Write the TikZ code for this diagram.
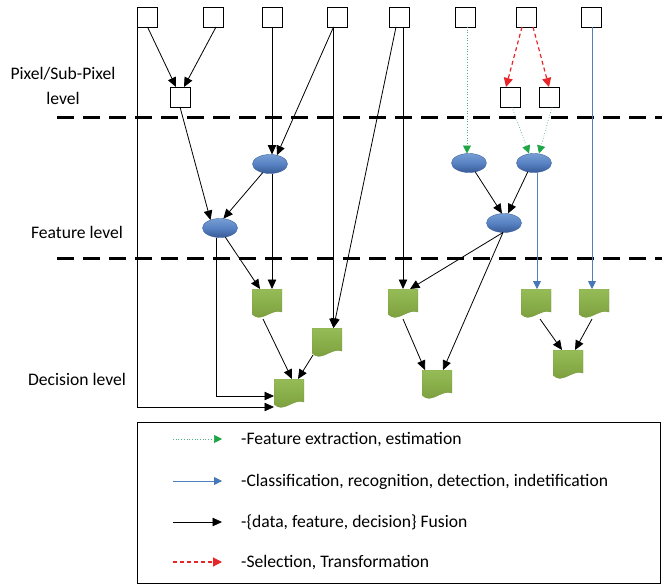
\documentclass[tikz,border=0pt]{standalone}
\usepackage{fontspec}
\setmainfont{Carlito}
\usetikzlibrary{arrows.meta,calc,shapes.geometric}

\definecolor{lineblue}{RGB}{79,129,189}
\definecolor{tipblue}{RGB}{70,120,185}
\definecolor{linegreen}{RGB}{80,175,130}
\definecolor{tipgreen}{RGB}{30,165,70}
\definecolor{linered}{RGB}{232,38,42}
\definecolor{ellTop}{RGB}{118,158,212}
\definecolor{ellMid}{RGB}{88,130,195}
\definecolor{ellBot}{RGB}{55,90,150}
\definecolor{ellEdge}{RGB}{65,100,160}
\definecolor{docTop}{RGB}{150,188,88}
\definecolor{docMid}{RGB}{176,208,114}
\definecolor{docBot}{RGB}{118,155,56}
\definecolor{docEdge}{RGB}{120,152,62}

\tikzset{
  sqbox/.style={draw=black, line width=0.8pt, fill=white, minimum width=20pt,
    minimum height=20pt, inner sep=0pt, outer sep=0pt},
  blob/.style={ellipse, minimum width=35pt, minimum height=19pt, inner sep=0pt,
    outer sep=0pt, draw=ellEdge, line width=0.4pt,
    top color=ellTop, bottom color=ellBot, middle color=ellMid},
  docnode/.style={rectangle, minimum width=30pt, minimum height=30pt, inner sep=0pt,
    outer sep=0pt,
    path picture={
      \begin{scope}[shift={(path picture bounding box.center)}]
        \shade[top color=docTop, middle color=docMid, bottom color=docBot,
               draw=docEdge, line width=0.4pt]
          (-15pt,15pt) -- (15pt,15pt) -- (15pt,-8pt)
          .. controls (4pt,-4pt) and (-6pt,-20pt) .. (-15pt,-10pt) -- cycle;
      \end{scope}
    }},
  fuse/.style={draw=black, line width=0.8pt, -{Triangle[length=9.5pt,width=8.5pt]}},
  classify/.style={draw=lineblue, line width=0.8pt,
    -{Triangle[length=8pt,width=8pt,fill=tipblue,color=tipblue]}},
  extract/.style={draw=linegreen, line width=0.7pt, dotted,
    -{Triangle[length=8pt,width=8pt,fill=tipgreen,color=tipgreen]}},
  select/.style={draw=linered, line width=1.2pt, dash pattern=on 4pt off 3pt,
    -{Triangle[length=9pt,width=9pt,fill=linered,color=linered]}},
  levelline/.style={draw=black, line width=3pt, dash pattern=on 17pt off 9pt},
  lbl/.style={font=\fontsize{17.6}{20}\selectfont, inner sep=0pt}
}

\begin{document}
\begin{tikzpicture}[x=1pt,y=-1pt]
\useasboundingbox (0,0) rectangle (662,586);

% level separators
\draw[levelline] (57,118) -- (662,118);
\draw[levelline] (57,258) -- (662,258);

% level names
\node[lbl, anchor=base] (lvA) at (63,80) {Pixel/Sub-Pixel};
\node[lbl, anchor=base] (lvB) at (63,105) {level};
\node[lbl, anchor=base] (lvC) at (77,238) {Feature level};
\node[lbl, anchor=base] (lvD) at (77,385) {Decision level};

% sources
\node[sqbox] (t1) at (147.5,17) {};
\node[sqbox] (t2) at (213,17) {};
\node[sqbox] (t3) at (272,17) {};
\node[sqbox] (t4) at (337.5,17) {};
\node[sqbox] (t5) at (399.5,17) {};
\node[sqbox] (t6) at (465,17) {};
\node[sqbox] (t7) at (526,17) {};
\node[sqbox] (t8) at (591,17) {};

% pixel level
\node[sqbox] (p1) at (180,97) {};
\node[sqbox] (r1) at (510,97) {};
\node[sqbox] (r2) at (549,97) {};

% feature level
\node[blob] (e1) at (270,164) {};
\node[blob] (e2) at (220,228) {};
\node[blob] (e3) at (469,163) {};
\node[blob] (e4) at (534,163) {};
\node[blob] (e5) at (504,223) {};

% decision level
\node[docnode] (d1) at (267,304) {};
\node[docnode] (d2) at (327,343) {};
\node[docnode] (d3) at (289,394) {};
\node[docnode] (d4) at (403,304) {};
\node[docnode] (d5) at (437,385) {};
\node[docnode] (d6) at (536,304) {};
\node[docnode] (d7) at (594,304) {};
\node[docnode] (d8) at (568,365) {};

% fusion connectors (left group)
\draw[fuse] (t1.south) -- ([xshift=-4pt]p1.north);
\draw[fuse] ([xshift=3pt]t2.south) -- ([xshift=4pt]p1.north);
\draw[fuse] (t1.south west) |- ([yshift=-13pt]d3.west);
\draw[fuse] (p1.south) -- (e2.140);
\draw[fuse] (e1.230) -- (e2.70);
\draw[fuse] (t3.south) -- (t3.south |- e1.north);
\draw[fuse] ([xshift=-4pt]t4.south) -- (e1.52);
\draw[fuse] ([xshift=-4pt]t4.south) -- ([xshift=-4pt]t4.south |- d2.north);
\draw[fuse] ([xshift=-3.5pt]t5.south) -- ([xshift=6.5pt]d2.north);
\draw[fuse] ([xshift=3.5pt]t5.south) -- ([xshift=3.5pt]t5.south |- d4.north);
\draw[fuse] ([xshift=2pt]e1.south) -- ([xshift=2pt]e1.south |- d1.north);
\draw[fuse] (e2.-60) -- ([xshift=-7pt]d1.north);
\draw[fuse] ([xshift=-4pt]e2.south) |- ([yshift=-2pt]d3.west);
\draw[fuse] ([xshift=-4pt]d1.south) -- ([xshift=3pt]d3.north);
\draw[fuse] ([xshift=-14pt,yshift=3pt]d2.south) -- ([xshift=9pt]d3.north);

% right group
\draw[extract] ([xshift=2pt]t6.south) -- ([xshift=2pt]t6.south |- e3.north);
\draw[select] ([xshift=-4pt]t7.south) -- ([xshift=-4pt]r1.north);
\draw[select] ([xshift=7pt]t7.south) -- (r2.north);
\draw[extract] ([xshift=2pt]r1.south) -- ([xshift=-5pt]e4.north);
\draw[extract] ([xshift=3pt]r2.south) -- ([xshift=5pt]e4.north);
\draw[fuse] (e3.-55) -- ([xshift=-2pt]e5.north);
\draw[fuse] (e4.-125) -- ([xshift=4pt]e5.north);
\draw[fuse] ([xshift=-1pt]e5.south) -- ([xshift=7pt]d4.north);
\draw[fuse] ([xshift=-1pt]e5.south) -- ([xshift=6pt]d5.north);
\draw[fuse] (d4.south) -- ([xshift=-12pt]d5.north);
\draw[classify] ([xshift=3pt]e4.south) -- ([xshift=3pt]e4.south |- d6.north);
\draw[classify] ([xshift=1pt]t8.south) -- ([xshift=1pt]t8.south |- d7.north);
\draw[fuse] ([xshift=4pt]d6.south) -- ([xshift=-6pt]d8.north);
\draw[fuse] ([xshift=-2pt]d7.south) -- ([xshift=7pt]d8.north);

% legend
\node[draw=black, line width=0.8pt, minimum width=523pt, minimum height=161pt,
      inner sep=0pt, anchor=north west] (legend) at (137,422) {};
\coordinate (k1a) at (173,439); \coordinate (k1b) at (222,439);
\coordinate (k2a) at (173,481); \coordinate (k2b) at (222,481);
\coordinate (k3a) at (173,522); \coordinate (k3b) at (222,522);
\coordinate (k4a) at (173,562); \coordinate (k4b) at (222,562);
\draw[extract] (k1a) -- (k1b);
\draw[classify] (k2a) -- (k2b);
\draw[fuse] (k3a) -- (k3b);
\draw[select] (k4a) -- (k4b);
\node[lbl, anchor=base west] (k1t) at (241,444) {-Feature extraction, estimation};
\node[lbl, anchor=base west] (k2t) at (241,486) {-Classification, recognition, detection, indetification};
\node[lbl, anchor=base west] (k3t) at (241,527) {-\{data, feature, decision\} Fusion};
\node[lbl, anchor=base west] (k4t) at (241,567) {-Selection, Transformation};
\end{tikzpicture}
\end{document}
